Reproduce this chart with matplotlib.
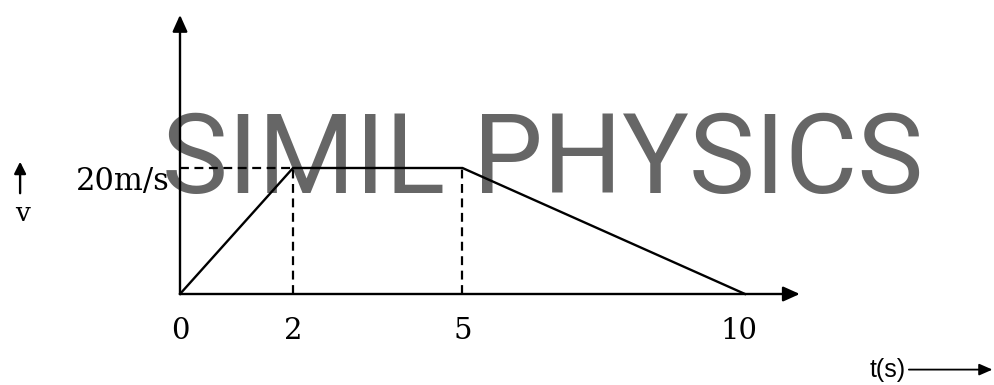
import matplotlib
matplotlib.use("Agg")
import matplotlib.pyplot as plt

# --- Data (velocity-time graph) ---
t_points = [0, 2, 5, 10]
v_points = [0, 20, 20, 0]
tick_vals = [0, 2, 5, 10]
tick_labels = ["0", "2", "5", "10"]
v_label = "20m/s"

# pixel -> data scale used for the full-figure axes
PX_X = 56.5   # px per second
PX_Y = 6.3    # px per m/s
X0, Y0 = 180, 294
W, H = 995, 385

fig = plt.figure(figsize=(W / 100, H / 100), dpi=100)
ax = fig.add_axes([0, 0, 1, 1])
ax.set_xlim(-X0 / PX_X, (W - X0) / PX_X)
ax.set_ylim(-(H - Y0) / PX_Y, Y0 / PX_Y)
ax.axis("off")

arrow = dict(arrowstyle="-|>,head_length=1.0,head_width=0.45", color="black",
             lw=1.7, shrinkA=0, shrinkB=0)

# axes with arrow heads
ax.annotate("", xy=(0, 44.3), xytext=(0, 0), arrowprops=arrow)
ax.annotate("", xy=(10.97, 0), xytext=(0, 0), arrowprops=arrow)

# watermark
ax.text(6.42, 16.0, "SIMIL PHYSICS", color="#666666", fontsize=80,
        family=["Roboto", "DejaVu Sans"],
        ha="center", va="baseline", zorder=1)

# graph
ax.plot(t_points, v_points, color="black", lw=1.7, zorder=3)

# dashed guides
ax.plot([0, t_points[1]], [v_points[1], v_points[1]], color="black", lw=1.6,
        ls=(0, (4, 2.5)), zorder=3)
for t, v in zip(t_points[1:3], v_points[1:3]):
    ax.plot([t, t], [0, v], color="black", lw=1.6, ls=(0, (4, 2.5)), zorder=3)

# tick labels
for tv, tl in zip(tick_vals, tick_labels):
    ax.text(tv - (0.1 if tv == 10 else 0), -5.8, tl, family="DejaVu Serif", fontsize=21,
            ha="center", va="center")

ax.text(-0.18, 17.9, v_label, family="DejaVu Serif", fontsize=22, ha="right", va="center")

# v arrow and label
ax.annotate("", xy=(-2.83, 21.0), xytext=(-2.83, 16.0),
            arrowprops=dict(arrowstyle="-|>,head_length=0.7,head_width=0.35",
                            color="black", lw=1.7, shrinkA=0, shrinkB=0))
ax.text(-2.78, 12.8, "v", family="DejaVu Serif", fontsize=19, ha="center", va="center")

# t(s) label
ax.text(12.2, -12.0, "t(s)", family="Liberation Sans", fontsize=18, ha="left", va="center")
ax.annotate("", xy=(14.38, -12.0), xytext=(12.9, -12.0),
            arrowprops=dict(arrowstyle="-|>,head_length=0.8,head_width=0.35",
                            color="black", lw=1.3, shrinkA=0, shrinkB=0))

fig.savefig("out.png", dpi=100)
